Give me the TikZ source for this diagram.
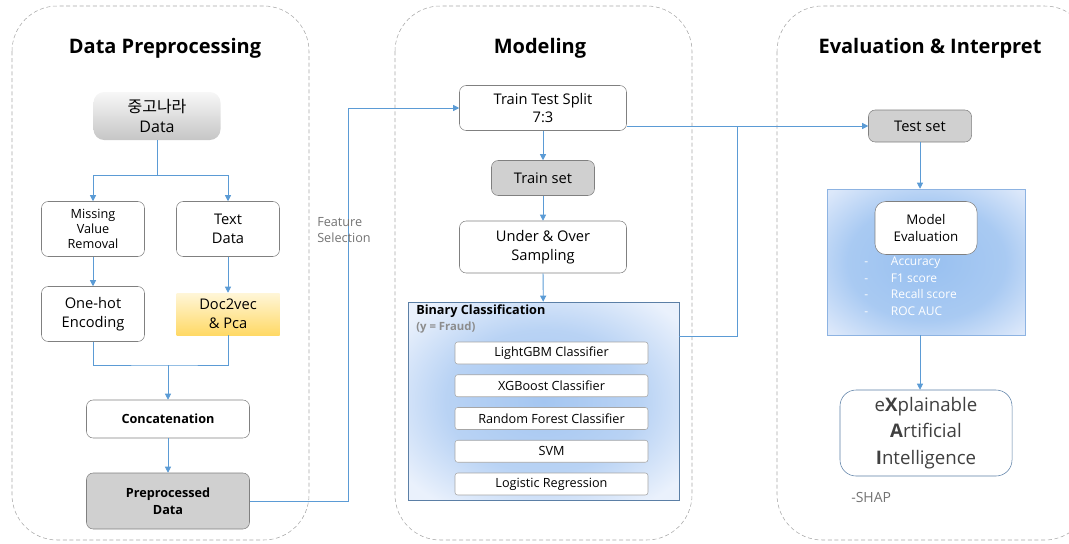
\documentclass[tikz,border=0pt]{standalone}
\usepackage{fontspec}
\setmainfont{Open Sans}
\newfontfamily\krfont{Noto Sans CJK KR}
\usepackage{xcolor}
\usetikzlibrary{positioning,arrows.meta}
\definecolor{flow}{HTML}{5B9BD5}
\definecolor{edge}{HTML}{808080}
\definecolor{setgray}{HTML}{D0D0D0}
\definecolor{warmtop}{HTML}{FFF6D8}
\definecolor{warmbot}{HTML}{FFD966}
\definecolor{grpin}{HTML}{A4C6F1}
\definecolor{grpout}{HTML}{EAF1FC}
\definecolor{evin}{HTML}{98C0F0}
\definecolor{evout}{HTML}{DCE8FA}
\definecolor{grpedge}{HTML}{5B7FA6}
\definecolor{evedge}{HTML}{8DB3E2}
\pgfdeclareradialshading{softglow}{\pgfpoint{0bp}{0bp}}{color(0bp)=(grpin); color(18bp)=(grpin!70!grpout); color(32bp)=(grpout); color(100bp)=(grpout)}
\pgfdeclareradialshading{evalglow}{\pgfpoint{0bp}{0bp}}{color(0bp)=(evin); color(20bp)=(evin!75!evout); color(34bp)=(evout); color(100bp)=(evout)}

\begin{document}
\begin{tikzpicture}[x=0.75pt, y=-0.75pt,
  sz/.style 2 args={minimum width=#1*0.75pt, minimum height=#2*0.75pt},
  panel/.style={draw=black!35, densely dashed, line width=0.4pt, rounded corners=34pt},
  title/.style={font=\bfseries\fontsize{15}{18}\selectfont},
  box/.style={draw=edge, rounded corners=5pt, fill=white, align=center, inner sep=1pt, font=\fontsize{11}{14}\selectfont},
  small/.style={font=\fontsize{9.5}{11.5}\selectfont},
  heavy/.style={font=\bfseries\fontsize{9.5}{13}\selectfont},
  db/.style={rounded corners=8pt, top color=gray!6, bottom color=gray!45, align=center, font=\fontsize{12}{15}\selectfont},
  warm/.style={top color=warmtop, bottom color=warmbot, align=center, font=\fontsize{11}{14}\selectfont},
  group/.style={draw=grpedge, shading=softglow},
  model/.style={draw=edge!70, rounded corners=2pt, fill=white, inner sep=1pt, font=\fontsize{9.5}{12}\selectfont},
  note/.style={text=black!55, align=left, inner sep=0pt},
  metric/.style={text=white, align=left, inner sep=0pt, font=\fontsize{9}{12.4}\selectfont},
  line/.style={draw=flow, line width=0.6pt},
  arr/.style={line, -{Triangle[length=4.5pt, width=4.5pt]}}]
\useasboundingbox (0,0) rectangle (1069,543);

\draw[panel] (12,6) rectangle (309,540);
\draw[panel] (395,6) rectangle (692,540);
\draw[panel] (777,6) rectangle (1090,540);
\node[title] (t1) at (165,48) {Data Preprocessing};
\node[title] (t2) at (540,48) {Modeling};
\node[title] (t3) at (930,48) {Evaluation \& Interpret};

% preprocessing
\node[db, sz={127}{48}] (src) at (157,116) {{\krfont 중고나라}\\Data};
\node[box, small, sz={103}{55}] (miss) at (93,229) {Missing\\Value\\Removal};
\node[box, sz={103}{55}] (txt) at (228,229) {Text\\Data};
\node[box, sz={103}{55}] (onehot) at (93,314) {One-hot\\Encoding};
\node[warm, sz={103}{42}] (d2v) at (228,314) {Doc2vec\\\& Pca};
\node[box, heavy, sz={163}{38}] (concat) at (168,419) {Concatenation};
\node[box, heavy, fill=setgray, sz={163}{56}] (prep) at (168,501) {Preprocessed\\Data};
\coordinate (fork) at (157,175);
\coordinate (merge) at (168,365);
\draw[line] (src.south) -- (fork);
\draw[arr] (fork) -| (miss.north);
\draw[arr] (fork) -| (txt.north);
\draw[arr] (miss) -- (onehot);
\draw[arr] (txt) -- (d2v);
\draw[line] (onehot.south) |- (merge) -| (d2v.south);
\draw[arr] (merge) -- (concat.north);
\draw[arr] (concat) -- (prep);

% modeling
\node[box, sz={167}{45}] (tts) at (543,108) {Train Test Split\\7:3};
\node[box, fill=setgray, sz={103}{35}] (train) at (543,178) {Train set};
\node[box, sz={167}{52}] (samp) at (543,247) {Under \& Over\\Sampling};
\node[group, sz={271}{198}] (bin) at (543.5,401) {};
\node[font=\bfseries\fontsize{9.5}{12}\selectfont, anchor=north west, inner sep=0pt] (bintitle) at (416,305) {Binary Classification};
\node[font=\bfseries\fontsize{8.5}{11}\selectfont, text=black!45, anchor=north west, inner sep=0pt] (fraud) at (416,322) {(y = Fraud)};
\foreach \m [count=\i] in {LightGBM Classifier, XGBoost Classifier, Random Forest Classifier, SVM, Logistic Regression}
  \node[model, sz={193}{22}] (m\i) at (551.5,{353+32.75*(\i-1)}) {\m};
\coordinate (fs) at (348,501);
\coordinate (meet) at (737,126);
\draw[arr] (prep.east) -- (fs) |- (tts.west);
\node[note, anchor=north west, font=\fontsize{9.5}{12.5}\selectfont] (fsel) at (317,217) {Feature\\Selection};
\draw[arr] (tts) -- (train);
\draw[arr] (train) -- (samp);
\draw[arr] (samp) -- (bin);

% evaluation
\node[box, fill=setgray, sz={103}{32}] (test) at (920,126) {Test set};
\node[group, draw=evedge, shading=evalglow, sz={198}{146}] (evalbox) at (926.5,262) {};
\node[box, rounded corners=8pt, font=\fontsize{10}{13}\selectfont, sz={102}{53}] (meval) at (926,228) {Model\\Evaluation};
\node[metric, anchor=north west] (mlist) at (864,257)
  {\makebox[20pt][l]{-}Accuracy\\\makebox[20pt][l]{-}F1 score\\\makebox[20pt][l]{-}Recall score\\\makebox[20pt][l]{-}ROC AUC};
\node[box, draw=grpedge, text=black!75, rounded corners=12pt, font=\fontsize{14}{20}\selectfont, sz={172}{86}] (xai) at (926,433)
  {e\textbf{X}plainable\\\textbf{A}rtificial\\\textbf{I}ntelligence};
\node[note, anchor=west, font=\fontsize{10.5}{13}\selectfont] (shap) at (851,497) {-SHAP};
\draw[arr] (tts.east |- test.west) -- (test.west);
\draw[line] (bin.east |- 0,336) -| (meet);
\draw[arr] (test.south) -- (test.south |- evalbox.north);
\draw[arr] (test.south |- evalbox.south) -- (test.south |- xai.north);
\end{tikzpicture}
\end{document}
